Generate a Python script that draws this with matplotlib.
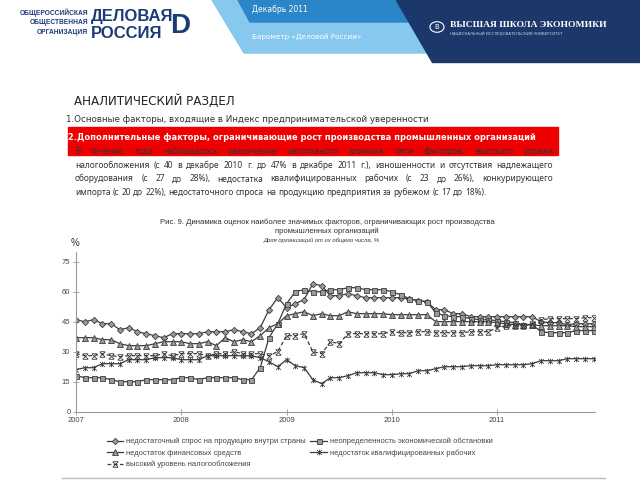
import matplotlib

matplotlib.use("Agg")

import matplotlib.pyplot as plt
import numpy as np
from matplotlib.lines import Line2D
from matplotlib.patches import Polygon, Rectangle, Circle
from matplotlib.path import Path
from matplotlib.font_manager import FontProperties

# monthly values, Jan 2007 .. Dec 2011
months = 2007 + np.arange(60) / 12

demand = [46, 45, 46, 44, 44, 41, 42, 40, 39, 38, 37, 39,
          39, 39, 39, 40, 40, 40, 41, 40, 39, 42, 51, 57,
          52, 54, 56, 64, 63, 58, 58, 59, 58, 57, 57, 57,
          57, 57, 56.5, 55.5, 55, 51, 51, 49, 49, 47.5, 47.5, 47.5,
          47.5, 47.5, 47.5, 47.5, 47.5, 45, 44.5, 44.5, 43.5, 44, 44, 44]
uncertainty = [18, 17, 17, 17, 16, 15, 15, 15, 16, 16, 16, 16,
               17, 17, 16, 17, 17, 17, 17, 16, 16, 22, 37, 44,
               54, 60, 61, 60, 60, 61, 61, 62, 62, 61, 61, 61,
               60, 58.5, 56.5, 55.5, 55, 49.5, 48, 47.5, 47.5, 46.5, 46, 46,
               45.5, 45, 44.5, 43.5, 43.5, 40, 39.5, 39.5, 39.5, 40.5, 40.5, 40.5]
finance = [37, 37, 37, 36, 36, 34, 33, 33, 33, 34, 35, 35,
           35, 34, 34, 35, 33, 37, 35, 36, 35, 38, 42, 44,
           48, 49, 50, 48, 49, 48, 48, 50, 49, 49, 49, 49,
           48.5, 48.5, 48.5, 48.5, 48.5, 45, 45, 45, 45, 45, 45, 45,
           44.5, 44, 43.5, 43.5, 43.5, 43, 43, 43, 43, 42.5, 42.5, 42.5]
workers = [21, 22, 22, 24, 24, 24, 26, 26, 26, 27, 27, 27,
           26, 26, 26, 28, 28, 28, 28, 28, 28, 27, 25, 22.5,
           26, 23, 22, 16, 14, 17, 17, 18, 19.5, 19.5, 19.5, 18.5,
           18.5, 19, 19, 20.5, 20.5, 21.5, 22.5, 22.5, 22.5, 23, 23, 23,
           23.5, 23.5, 23.5, 23.5, 24, 25.5, 25.5, 25.5, 26.5, 26.5, 26.5, 26.5]
taxes = [29, 28, 28, 29, 28, 27.5, 28, 28, 28, 28, 29, 28,
         29, 29, 29, 28, 29, 29, 30, 29, 29, 29, 28, 30,
         38, 38, 39, 30, 29, 35, 34, 39, 39, 39, 39, 39,
         40, 39.5, 39.5, 40, 40, 39.5, 39.5, 39.5, 39.5, 40, 40, 40,
         42, 43, 43, 43, 44, 46, 46.5, 46.5, 46.5, 46.5, 47, 47]

labels = [
    "недостаточный спрос на продукцию внутри страны",
    "неопределенность экономической обстановки",
    "недостаток финансовых средств",
    "недостаток квалифицированных рабочих",
    "высокий уровень налогообложения",
]
year_ticks = [2007, 2008, 2009, 2010, 2011]
y_ticks = [0, 15, 30, 45, 60, 75]

body_lines = [
    "В течение года наблюдалось увеличение негативного влияния пяти факторов: высокого уровня",
    "налогообложения (с 40 в декабре 2010 г. до 47% в декабре 2011 г.), изношенности и отсутствия надлежащего",
    "оборудования (с 27 до 28%), недостатка квалифицированных рабочих (с 23 до 26%), конкурирующего",
    "импорта (с 20 до 22%), недостаточного спроса на продукцию предприятия за рубежом (с 17 до 18%).",
]

# custom markers: asterisk and X with bars
star_marker = Path(
    [(-1, -1), (1, 1), (-1, 1), (1, -1), (0, -1.2), (0, 1.2)],
    [Path.MOVETO, Path.LINETO, Path.MOVETO, Path.LINETO, Path.MOVETO, Path.LINETO],
)
barx_marker = Path(
    [(-1, -1), (1, 1), (-1, 1), (1, -1), (-0.8, 1), (0.8, 1), (-0.8, -1), (0.8, -1)],
    [Path.MOVETO, Path.LINETO, Path.MOVETO, Path.LINETO,
     Path.MOVETO, Path.LINETO, Path.MOVETO, Path.LINETO],
)

W, H = 640, 480
fig = plt.figure(figsize=(6.4, 4.8), dpi=100)


def fx(px):
    return px / W


def fy(py):
    return 1 - py / H


# ---- header ----
navy = "#1c3769"
fig.patches.append(Polygon([(fx(212), fy(0)), (fx(400), fy(0)), (fx(432), fy(53)), (fx(244), fy(53))],
                           closed=True, transform=fig.transFigure, color="#86c8ee", zorder=1))
fig.patches.append(Polygon([(fx(238), fy(0)), (fx(400), fy(0)), (fx(412), fy(22)), (fx(250), fy(22))],
                           closed=True, transform=fig.transFigure, color="#2a86c8", zorder=2))
fig.patches.append(Polygon([(fx(396), fy(0)), (fx(640), fy(0)), (fx(640), fy(62)), (fx(432), fy(62))],
                           closed=True, transform=fig.transFigure, color=navy, zorder=3))
fig.text(fx(252), fy(10), "Декабрь 2011", color="white", fontsize=5.5, va="center")
fig.text(fx(252), fy(37), "Барометр «Деловой России»", color="white", fontsize=5.2, va="center")

for i, t in enumerate(["ОБЩЕРОССИЙСКАЯ", "ОБЩЕСТВЕННАЯ", "ОРГАНИЗАЦИЯ"]):
    fig.text(fx(88), fy(13 + 10 * i), t, color="#1b3a78", fontsize=4.8, fontweight="bold",
             ha="right", va="center", family="Liberation Sans")
fig.text(fx(91), fy(17), "ДЕЛОВАЯ", color="#1b3a78", fontsize=12, fontweight="bold",
         va="center", family="Liberation Sans")
fig.text(fx(91), fy(34), "РОССИЯ", color="#1b3a78", fontsize=12, fontweight="bold",
         va="center", family="Liberation Sans")
fig.text(fx(170), fy(26), "D", color="#1b3a78", fontsize=20, fontweight="bold",
         va="center", family="Liberation Sans")

fig.patches.append(Circle((fx(437), fy(27)), 0.011, transform=fig.transFigure,
                          facecolor=navy, edgecolor="white", linewidth=0.8, zorder=4))
fig.text(fx(437), fy(27), "В", color="white", fontsize=5, ha="center", va="center", zorder=5)
fig.text(fx(450), fy(25), "ВЫСШАЯ ШКОЛА ЭКОНОМИКИ", color="white", fontsize=6.8,
         va="center", family="Liberation Serif", fontweight="bold")
fig.text(fx(450), fy(34), "НАЦИОНАЛЬНЫЙ ИССЛЕДОВАТЕЛЬСКИЙ УНИВЕРСИТЕТ", color="#c8d2e4",
         fontsize=2.8, va="center")

# ---- section text ----
fig.text(fx(74), fy(101), "АНАЛИТИЧЕСКИЙ РАЗДЕЛ", fontsize=8.6, color="#222222", va="center")
fig.text(fx(66), fy(119), "1.Основные факторы, входящие в Индекс предпринимательской уверенности",
         fontsize=6.3, color="#333333", va="center")
fig.patches.append(Rectangle((fx(68), fy(155)), fx(490), 28 / H, transform=fig.transFigure,
                             color="#ee0000", zorder=1))
fig.text(fx(68), fy(137), "2.Дополнительные факторы, ограничивающие рост производства промышленных организаций",
         fontsize=5.95, color="white", fontweight="bold", va="center", zorder=3)

# justified body text, one text per word, widths measured by the renderer
body_font = FontProperties(family="Noto Sans", size=6.0)
renderer = fig.canvas.get_renderer()


def measure(s):
    t = fig.text(0, 0, s, fontproperties=body_font)
    wd = t.get_window_extent(renderer).width
    t.remove()
    return wd


space_w = measure("н н") - measure("нн")
left, right = 75, 553
for row, line in enumerate(body_lines):
    ypos = fy(154 + 13.7 * row)
    words = line.split()
    widths = [measure(w) for w in words]
    if row < len(body_lines) - 1:
        gap = (right - left - sum(widths)) / (len(words) - 1)
    else:
        gap = space_w
    xpos = left
    for w, wd in zip(words, widths):
        fig.text(fx(xpos), ypos, w, fontproperties=body_font, color="#333333",
                 va="baseline", ha="left", zorder=3)
        xpos += wd + gap

# ---- chart ----
fig.text(fx(327), fy(222), "Рис. 9. Динамика оценок наиболее значимых факторов, ограничивающих рост производства",
         fontsize=5.6, color="#333333", ha="center", va="center", family="Liberation Sans")
fig.text(fx(327), fy(231), "промышленных организаций", fontsize=5.6, color="#333333",
         ha="center", va="center", family="Liberation Sans")
fig.text(fx(322), fy(240), "Доля организаций от их общего числа, %", fontsize=4.2, color="#333333",
         ha="center", va="center", style="italic", family="Liberation Sans")
fig.text(fx(75), fy(243), "%", fontsize=7, color="#333333", ha="center", va="center",
         family="Liberation Sans")

ax = fig.add_axes([fx(76), fy(411.7), fx(519), 160 / H])
series = [
    (demand, "D", 3.2, "-"),
    (uncertainty, "s", 3.6, "-"),
    (finance, "^", 3.8, "-"),
    (workers, star_marker, 4.0, "-"),
    (taxes, barx_marker, 4.0, (0, (3, 2))),
]
handles = []
for (vals, mk, ms, ls), lab in zip(series, labels):
    filled = not isinstance(mk, Path)
    (h,) = ax.plot(months, vals, color="#3c3c3c", linewidth=0.9, linestyle=ls,
                   marker=mk, markersize=ms,
                   markerfacecolor="#9a9a9a" if filled else "none",
                   markeredgecolor="#3c3c3c", markeredgewidth=0.6, label=lab)
    handles.append(h)

ax.set_xlim(2007, 2011.93)
ax.set_ylim(0, 80)
ax.set_xticks(year_ticks)
ax.set_xticklabels([str(y) for y in year_ticks])
ax.set_yticks(y_ticks)
for side in ["top", "right"]:
    ax.spines[side].set_visible(False)
for side in ["left", "bottom"]:
    ax.spines[side].set_color("#9a9a9a")
    ax.spines[side].set_linewidth(0.8)
ax.tick_params(direction="inout", length=4, width=0.6, color="#9a9a9a",
               labelsize=5.5, labelcolor="#444444", pad=2)
for lbl in ax.get_xticklabels() + ax.get_yticklabels():
    lbl.set_family("Liberation Sans")

order = [0, 2, 4, 1, 3]
fig.legend([handles[i] for i in order], [labels[i] for i in order], ncol=2,
           loc="upper left", bbox_to_anchor=(fx(103), fy(434)), frameon=False,
           prop={"family": "Liberation Sans", "size": 5.4}, labelcolor="#444444",
           handlelength=2.2, handletextpad=0.4, columnspacing=0.6, labelspacing=0.55,
           borderpad=0)

fig.add_artist(Line2D([fx(62), fx(605)], [fy(478), fy(478)], color="#bbbbbb", linewidth=1,
                      transform=fig.transFigure))

fig.savefig("out.png", dpi=100)
plt.close(fig)
